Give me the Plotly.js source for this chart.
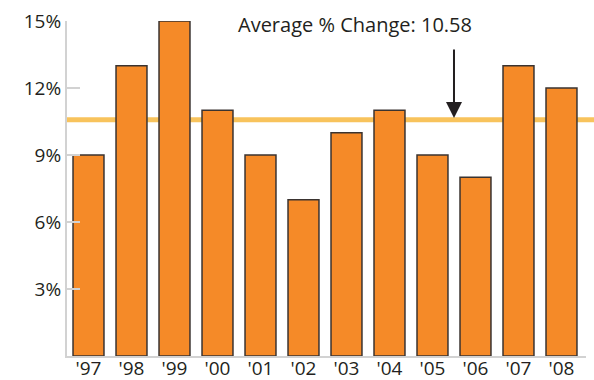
<!DOCTYPE html>
<html>
<head>
<meta charset="utf-8">
<script src="https://cdn.plot.ly/plotly-3.0.1.min.js"></script>
<style>html,body{margin:0;padding:0;background:#fff;}#chart{width:594px;height:380px;}</style>
</head>
<body>
<div id="chart"></div>
<script>
const years = ["'97","'98","'99","'00","'01","'02","'03","'04","'05","'06","'07","'08"];
const changes = [9, 13, 15, 11, 9, 7, 10, 11, 9, 8, 13, 12];
const averageChange = 10.58;
const yTickVals = [3, 6, 9, 12, 15];
const yTickText = ["3%", "6%", "9%", "12%", "15%"];
const annotationText = "Average % Change: 10.58";

const FONT = "Open Sans, Noto Sans, DejaVu Sans, sans-serif";
const trace = {
  type: 'bar',
  x: years,
  y: changes,
  marker: {color: '#F58A28', line: {color: '#3a3330', width: 1.5}},
  hoverinfo: 'skip'
};
const layout = {
  width: 594, height: 380,
  margin: {l: 67, r: 8, t: 21, b: 24},
  paper_bgcolor: '#fff', plot_bgcolor: '#fff',
  showlegend: false,
  bargap: 0.28,
  font: {family: FONT, color: '#231f20', size: 18},
  xaxis: {
    type: 'category',
    range: [-0.5, 11.57],
    showgrid: false, zeroline: false,
    showline: true, linecolor: '#d2d2d2', linewidth: 2,
    ticks: '', ticklabelstandoff: -6,
    tickfont: {size: 19, family: FONT, color: '#231f20'},
    fixedrange: true
  },
  yaxis: {
    range: [0, 15],
    tickvals: yTickVals, ticktext: yTickText,
    showgrid: false, zeroline: false,
    showline: true, linecolor: '#d2d2d2', linewidth: 2,
    ticks: 'inside', ticklen: 13, tickwidth: 2, tickcolor: '#d2d2d2',
    tickfont: {size: 19, family: FONT, color: '#231f20'},
    fixedrange: true
  },
  shapes: [{
    type: 'line', xref: 'paper', yref: 'y',
    x0: 0, x1: 1.02, y0: averageChange, y1: averageChange,
    line: {color: '#F8C35C', width: 5},
    layer: 'below'
  }],
  annotations: [
    {
      xref: 'paper', yref: 'paper', x: 0.555, y: 0.99,
      xanchor: 'center', yanchor: 'middle',
      text: annotationText, showarrow: false,
      font: {size: 20, family: FONT, color: '#231f20'}
    },
    {
      xref: 'x', yref: 'y', x: 8.5, y: 10.66,
      text: '', showarrow: true,
      ax: 0, ay: -70,
      arrowhead: 2, arrowsize: 1.6, arrowwidth: 2, arrowcolor: '#231f20',
      standoff: 0
    }
  ]
};
Plotly.newPlot('chart', [trace], layout, {displayModeBar: false, staticPlot: true});
</script>
</body>
</html>
